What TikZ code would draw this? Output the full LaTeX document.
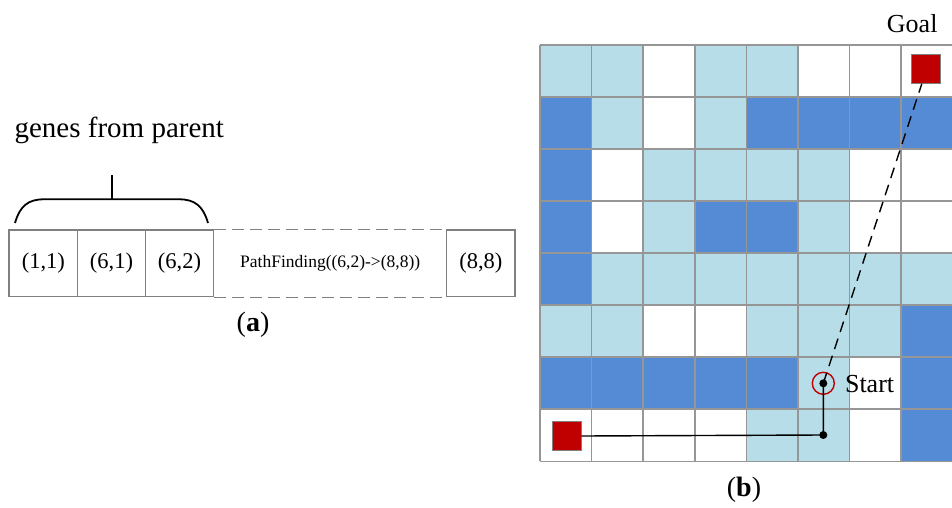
\documentclass[tikz,border=0pt]{standalone}
\usepackage{fontspec}
\setmainfont{Liberation Serif}
\usetikzlibrary{calc}
\definecolor{lb}{HTML}{B7DDE8}
\definecolor{db}{HTML}{558AD5}
\definecolor{wt}{HTML}{FFFFFF}
\definecolor{mark}{HTML}{C00000}
\definecolor{gridgray}{HTML}{969696}
\definecolor{boxgray}{HTML}{808080}
\tikzset{
  gene/.style={draw=boxgray, line width=1.3pt, minimum height=66.7pt, inner sep=0pt,
    font=\fontsize{22.5}{24}\selectfont},
  gridline/.style={draw=gridgray, line width=1.6pt},
  endsquare/.style={draw=boxgray, line width=0.8pt, fill=mark, minimum size=29pt, inner sep=0pt},
  dot/.style={circle, fill=black, minimum size=8pt, inner sep=0pt},
  route/.style={line width=1.4pt, black},
  guess/.style={line width=1.4pt, black, dash pattern=on 11pt off 7pt},
  caption/.style={font=\fontsize{28}{30}\selectfont},
}
\begin{document}
\begin{tikzpicture}[x=1pt, y=-1pt]
\useasboundingbox (0,0) rectangle (952,508);

% ---------- (a) chromosome ----------
\node[gene, minimum width=68.7pt] (g1) at (43.35,263.35) {(1,1)};
\node[gene, minimum width=67.6pt] (g2) at (111.5,263.35) {(6,1)};
\node[gene, minimum width=68.4pt] (g3) at (179.5,263.35) {(6,2)};
\node[gene, minimum width=68.3pt] (g4) at (480.85,263.35) {(8,8)};
\node[font=\fontsize{17.5}{20}\selectfont] (pf) at ($(g3.east)!0.5!(g4.west)$) {PathFinding((6,2)->(8,8))};
\draw[draw=boxgray, line width=1.5pt, dash pattern=on 12pt off 6pt]
  (g3.north east) -- (g4.north west)
  (g3.south east) -- (g4.south west);

% brace over the inherited genes
\draw[line width=1.8pt]
  (15,223) .. controls (20,206) and (28,199.3) .. (44,199.3) -- (179,199.3)
  .. controls (195,199.3) and (203,206) .. (208,223);
\draw[line width=1.8pt] (111.7,199.3) -- (111.7,175);
\node[anchor=base, font=\fontsize{29}{32}\selectfont] (genes) at (119.3,137.3) {genes from parent};
\node[caption] (capa) at (253,325) {(\textbf{a})};

% ---------- (b) grid map ----------
\foreach \rowcols [count=\r from 0] in {
  {lb,lb,wt,lb,lb,wt,wt,wt},
  {db,lb,wt,lb,db,db,db,db},
  {db,wt,lb,lb,lb,lb,wt,wt},
  {db,wt,lb,db,db,lb,wt,wt},
  {db,lb,lb,lb,lb,lb,lb,lb},
  {lb,lb,wt,wt,lb,lb,lb,db},
  {db,db,db,db,db,lb,wt,db},
  {wt,wt,wt,wt,lb,lb,wt,db}}{
  \foreach \c [count=\k from 0] in \rowcols {
    \fill[fill=\c] (540+51.6*\k,45+52.04*\r) rectangle +(51.6,52.04);
  }
}
\foreach \i in {0,...,8}{
  \draw[gridline] (540+51.6*\i,45) -- (540+51.6*\i,461.3);
  \draw[gridline] (540,45+52.04*\i) -- (952.8,45+52.04*\i);
}

\node[endsquare] (goal) at (926.3,68.8) {};
\node[endsquare] (home) at (566.5,436) {};
\node[circle, draw=mark, line width=1.4pt, minimum size=22pt, inner sep=0pt] (start) at (823.3,383.3) {};
\coordinate (turn) at (823.3,435);

\draw[guess] (start.center) -- ($(goal.south west)!0.35!(goal.south east)$);
\draw[route] (home.east) -- (turn) -- (start.center);
\node[dot] at (start.center) {};
\node[dot] at (turn) {};

\node[anchor=base west, font=\fontsize{26}{28}\selectfont] (startlbl) at (841.5,392.3) {Start};
\node[anchor=base east, font=\fontsize{26}{28}\selectfont] (goallbl) at (941,32.7) {Goal};
\node[caption] (capb) at (744,490) {(\textbf{b})};
\end{tikzpicture}
\end{document}
